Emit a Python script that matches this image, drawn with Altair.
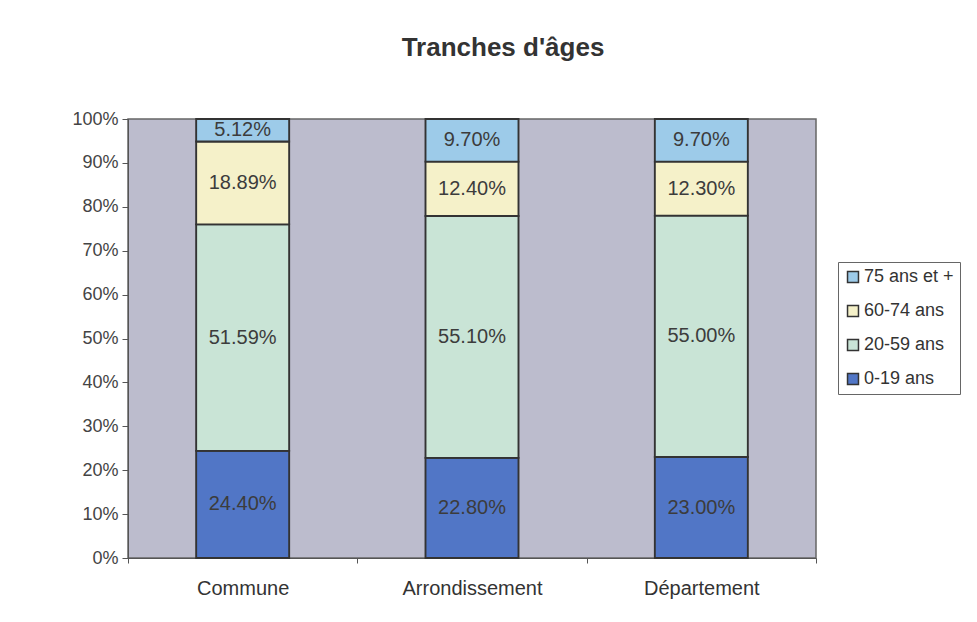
import altair as alt
import pandas as pd

categories = ["Commune", "Arrondissement", "Département"]
groups = ["0-19 ans", "20-59 ans", "60-74 ans", "75 ans et +"]
v_0_19 = [0.2440, 0.2280, 0.2300]
v_20_59 = [0.5159, 0.5510, 0.5500]
v_60_74 = [0.1889, 0.1240, 0.1230]
v_75 = [0.0512, 0.0970, 0.0970]
colors = ["#5176c6", "#c9e4d6", "#f5f1c9", "#9dcbe9"]

series = [v_0_19, v_20_59, v_60_74, v_75]
rows = []
for gi, (g, vals) in enumerate(zip(groups, series)):
    for c, v in zip(categories, vals):
        rows.append({"cat": c, "grp": g, "ord": gi, "val": v})
df = pd.DataFrame(rows)

legend_order = list(reversed(groups))
legend_colors = list(reversed(colors))

FONT = "Liberation Sans"

base = alt.Chart(df)

xscale = alt.Scale(paddingInner=0, paddingOuter=0)

bars = base.mark_bar(size=93, stroke="#333333", strokeWidth=1.9).encode(
    x=alt.X("cat:N", sort=categories, scale=xscale,
            axis=alt.Axis(title=None, labelAngle=0, tickBand="extent", ticks=True,
                          tickSize=5, tickColor="#555555", domainColor="#555555",
                          labelPadding=15, labelFontSize=20, labelColor="#333333",
                          labelFont=FONT)),
    y=alt.Y("val:Q", stack="zero", scale=alt.Scale(domain=[0, 1], nice=False, clamp=True),
            axis=alt.Axis(title=None, format="%", values=[i / 10 for i in range(11)],
                          grid=False, tickSize=6, tickColor="#555555", domainColor="#555555",
                          labelPadding=4, labelFontSize=18, labelColor="#444444",
                          labelFont=FONT)),
    color=alt.Color("grp:N", scale=alt.Scale(domain=legend_order, range=legend_colors),
                    legend=alt.Legend(title=None, orient="none", legendX=710, legendY=143,
                                      symbolType="square", symbolSize=120,
                                      symbolStrokeColor="#333333", symbolStrokeWidth=1.5,
                                      labelFontSize=18, labelFont=FONT, labelColor="#333333",
                                      labelOffset=2,
                                      rowPadding=16, padding=6, strokeColor="#666666",
                                      fillColor="white")),
    order=alt.Order("ord:Q"),
)

labels = base.transform_stack(
    stack="val", groupby=["cat"], as_=["y0", "y1"], sort=[alt.SortField("ord")]
).transform_calculate(mid="(datum.y0 + datum.y1) / 2").mark_text(
    fontSize=20, font=FONT, color="#3c3c3c"
).encode(
    x=alt.X("cat:N", sort=categories, scale=xscale),
    y=alt.Y("mid:Q"),
    text=alt.Text("val:Q", format=".2%"),
)

chart = alt.layer(bars, labels).properties(
    width=688,
    height=439,
    autosize=alt.AutoSizeParams(type="none"),
    padding={"left": 120, "top": 111, "right": 153, "bottom": 56},
    background="white",
    title=alt.Title("Tranches d'âges", fontSize=26, font=FONT, fontWeight="bold",
                    color="#333333", anchor="middle", dx=31, offset=49),
).configure_view(
    fill="#bcbccd", stroke="#666666", strokeWidth=1.5
)

chart.save("out.html", embed_options={"renderer": "svg", "actions": False})
